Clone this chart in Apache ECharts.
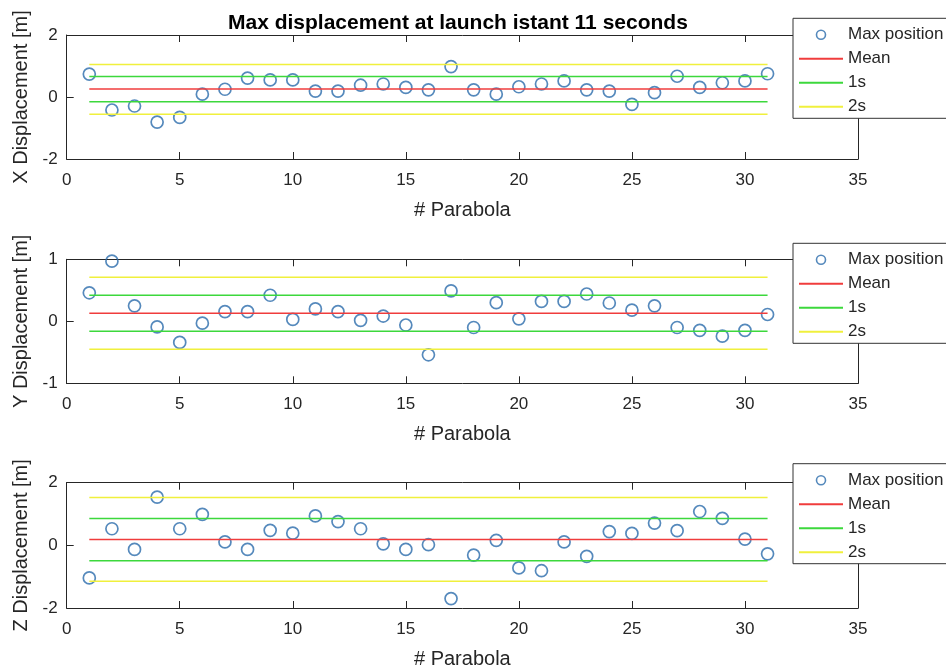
<!DOCTYPE html>
<html>
<head>
<meta charset="utf-8">
<script src="https://cdn.jsdelivr.net/npm/echarts@6/dist/echarts.min.js"></script>
<style>html,body{margin:0;padding:0;background:#fff;}#chart{width:946px;height:671px;}</style>
</head>
<body>
<div id="chart"></div>
<script>
// ---- data ----
const parabola = [1,2,3,4,5,6,7,8,9,10,11,12,13,14,15,16,17,18,19,20,21,22,23,24,25,26,27,28,29,30,31];
const xDisp = [0.74,-0.42,-0.29,-0.81,-0.66,0.09,0.25,0.61,0.55,0.55,0.19,0.19,0.38,0.42,0.31,0.23,0.98,0.23,0.09,0.33,0.42,0.52,0.23,0.19,-0.24,0.14,0.67,0.31,0.46,0.52,0.75];
const yDisp = [0.46,0.97,0.25,-0.09,-0.34,-0.03,0.155,0.155,0.42,0.03,0.20,0.155,0.015,0.085,-0.06,-0.54,0.49,-0.10,0.30,0.04,0.32,0.32,0.44,0.295,0.18,0.25,-0.10,-0.145,-0.24,-0.145,0.11];
const zDisp = [-1.04,0.53,-0.13,1.54,0.53,0.99,0.11,-0.13,0.48,0.39,0.94,0.76,0.53,0.05,-0.13,0.02,-1.70,-0.31,0.16,-0.72,-0.81,0.11,-0.35,0.44,0.38,0.71,0.47,1.08,0.86,0.20,-0.27];
// mean, +1s, -1s, +2s, -2s
const xStats = [0.26, 0.66, -0.15, 1.05, -0.56];
const yStats = [0.13, 0.42, -0.16, 0.71, -0.45];
const zStats = [0.19, 0.86, -0.49, 1.53, -1.15];
const yLabels = ['X Displacement [m]', 'Y Displacement [m]', 'Z Displacement [m]'];
const yRanges = [[-2, 2, 2], [-1, 1, 1], [-2, 2, 2]];
const xTickRange = [0, 35, 5];
const legendNames = ['Max position', 'Mean', '1s', '2s'];
const titleText = 'Max displacement at launch istant 11 seconds';

// ---- styling / layout ----
const FONT = '"Liberation Sans", Arial, Helvetica, sans-serif';
const AX = '#262626';
const BLUE = '#2a6cab';
const RED = '#f03c3c';
const GREEN = '#3cd83c';
const YELLOW = '#f0f03c';
const grids = [
  {left: 66.7, top: 35, width: 791.3, height: 124},
  {left: 66.7, top: 259.3, width: 791.3, height: 124},
  {left: 66.7, top: 482.7, width: 791.3, height: 125.3}
];
const legendTops = [18.3, 243.3, 463.7];

const allData = [xDisp, yDisp, zDisp];
const allStats = [xStats, yStats, zStats];

const xAxes = [], yAxes = [], series = [], legends = [];
grids.forEach((g, i) => {
  const common = {
    type: 'value', gridIndex: i, min: xTickRange[0], max: xTickRange[1], interval: xTickRange[2],
    axisLine: {show: true, onZero: false, lineStyle: {color: AX, width: 1}},
    axisTick: {show: true, inside: true, length: 7, lineStyle: {color: AX}},
    splitLine: {show: false}
  };
  xAxes.push(Object.assign({}, common, {
    position: 'bottom',
    axisLabel: {show: true, color: AX, fontSize: 17, fontFamily: FONT, margin: 13},
    name: '# Parabola', nameLocation: 'middle', nameGap: 41,
    nameTextStyle: {color: AX, fontSize: 20, fontFamily: FONT}
  }));
  xAxes.push(Object.assign({}, common, {position: 'top', axisLabel: {show: false}}));
  const yr = yRanges[i];
  const ycommon = {
    type: 'value', gridIndex: i, min: yr[0], max: yr[1], interval: yr[2],
    axisLine: {show: true, onZero: false, lineStyle: {color: AX, width: 1}},
    axisTick: {show: true, inside: true, length: 7, lineStyle: {color: AX}},
    splitLine: {show: false}
  };
  yAxes.push(Object.assign({}, ycommon, {
    position: 'left',
    axisLabel: {show: true, color: AX, fontSize: 17, fontFamily: FONT, margin: 9},
    name: yLabels[i], nameLocation: 'middle', nameGap: 32,
    nameTextStyle: {color: AX, fontSize: 20, fontFamily: FONT}
  }));
  yAxes.push(Object.assign({}, ycommon, {position: 'right', axisLabel: {show: false}}));

  const xa = 2 * i, ya = 2 * i;
  const vals = allData[i];
  const st = allStats[i];
  const x0 = parabola[0], x1 = parabola[parabola.length - 1];
  series.push({
    name: legendNames[0], type: 'scatter', xAxisIndex: xa, yAxisIndex: ya,
    symbol: 'circle', symbolSize: 12,
    itemStyle: {color: 'rgba(0,0,0,0)', borderColor: BLUE, borderWidth: 1.7},
    data: parabola.map((p, k) => [p, vals[k]]), z: 2
  });
  const lineSer = (name, v, color) => ({
    name: name, type: 'line', xAxisIndex: xa, yAxisIndex: ya, symbol: 'none',
    lineStyle: {color: color, width: 1.5}, itemStyle: {color: color},
    data: [[x0, v], [x1, v]], z: 3, silent: true
  });
  series.push(lineSer(legendNames[1], st[0], RED));
  series.push(lineSer(legendNames[2], st[1], GREEN));
  series.push(lineSer(legendNames[2], st[2], GREEN));
  series.push(lineSer(legendNames[3], st[3], YELLOW));
  series.push(lineSer(legendNames[3], st[4], YELLOW));

  legends.push({
    show: true, orient: 'vertical', left: 793, top: legendTops[i],
    backgroundColor: '#fff', borderColor: '#333', borderWidth: 1,
    padding: [8, 30, 3, 5], itemGap: 7, itemWidth: 44, itemHeight: 9,
    textStyle: {color: AX, fontSize: 17, fontFamily: FONT, padding: [0, 0, 0, 0]},
    selectedMode: false,
    data: [
      {name: legendNames[0], icon: 'circle', itemStyle: {color: 'rgba(0,0,0,0)', borderColor: BLUE, borderWidth: 1.6}},
      {name: legendNames[1], itemStyle: {opacity: 0}},
      {name: legendNames[2], itemStyle: {opacity: 0}},
      {name: legendNames[3], itemStyle: {opacity: 0}}
    ]
  });
});

const chart = echarts.init(document.getElementById('chart'), null, {renderer: 'canvas'});
chart.setOption({
  animation: false,
  backgroundColor: '#fff',
  title: {
    text: titleText, left: 223, top: 8,
    textStyle: {fontSize: 21, fontWeight: 'bold', color: '#000', fontFamily: FONT}
  },
  grid: grids.map(g => Object.assign({containLabel: false}, g)),
  xAxis: xAxes,
  yAxis: yAxes,
  legend: legends,
  series: series
});
</script>
</body>
</html>
